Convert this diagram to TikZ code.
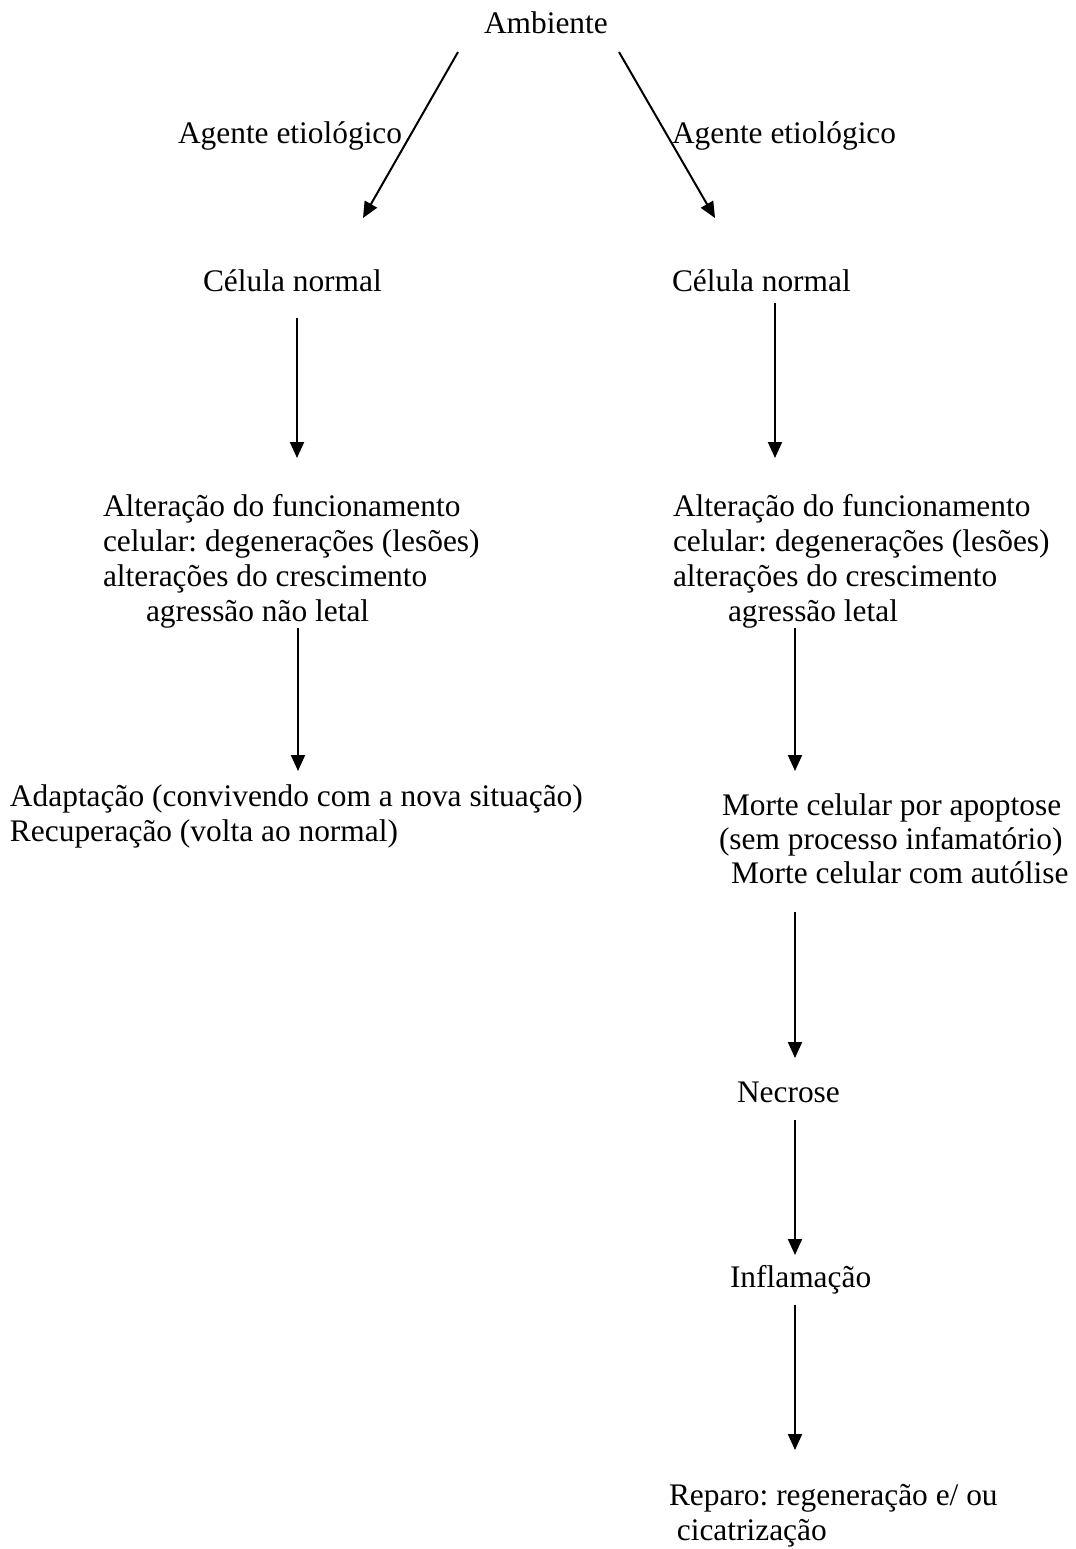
\documentclass[tikz,border=0pt]{standalone}
\usepackage{fontspec}
\setmainfont{Liberation Serif}
\usetikzlibrary{arrows.meta}
\newcommand\diagfont{\fontsize{15.7pt}{17.5pt}\selectfont\frenchspacing}
\begin{document}
\begin{tikzpicture}[x=0.5pt,y=-0.5pt,
  txt/.style={inner sep=0pt,outer sep=0pt,anchor=base west,font=\diagfont},
  arr/.style={line width=1pt,-{Triangle[length=8pt,width=7pt]}}]
\useasboundingbox[fill=white] (0,0) rectangle (1076,1549);
% texts
\node[txt] (amb) at (484,33) {Ambiente};
\node[txt] (agL) at (178,143) {Agente etiológico};
\node[txt] (agR) at (672,143) {Agente etiológico};
\node[txt] (celL) at (203,291) {Célula normal};
\node[txt] (celR) at (672,291) {Célula normal};
\node[txt] (altL) at (103,516) {\begin{tabular}[t]{@{}l@{}}Alteração do funcionamento\\celular: degenerações (lesões)\\alterações do crescimento\end{tabular}};
\node[txt] (altLb) at (146,621) {agressão não letal};
\node[txt] (altR) at (673,516) {\begin{tabular}[t]{@{}l@{}}Alteração do funcionamento\\celular: degenerações (lesões)\\alterações do crescimento\end{tabular}};
\node[txt] (altRb) at (728,621) {agressão letal};
\node[txt] (adap) at (10,806) {\begin{tabular}[t]{@{}l@{}}Adaptação (convivendo com a nova situação)\\Recuperação (volta ao normal)\end{tabular}};
\node[txt] (mort1) at (722,815) {Morte celular por apoptose};
\node[txt] (mort2) at (719,849) {(sem processo infamatório)};
\node[txt] (mort3) at (731,883) {Morte celular com autólise};
\node[txt] (necr) at (737,1102) {Necrose};
\node[txt] (infl) at (730,1287) {Inflamação};
\node[txt] (rep) at (669,1505) {\begin{tabular}[t]{@{}l@{}}Reparo: regeneração e/ ou\\\ cicatrização\end{tabular}};
% connector ends
\coordinate (a1s) at (458,52);  \coordinate (a1e) at (363,218);
\coordinate (a2s) at (619,52);  \coordinate (a2e) at (715,218);
\coordinate (l2s) at (297,318); \coordinate (l2e) at (297,458);
\coordinate (r2s) at (775,303); \coordinate (r2e) at (775,458);
\coordinate (l3s) at (298,628); \coordinate (l3e) at (298,771);
\coordinate (r3s) at (795,628); \coordinate (r3e) at (795,771);
\coordinate (r4s) at (795,912); \coordinate (r4e) at (795,1058);
\coordinate (r5s) at (795,1120);\coordinate (r5e) at (795,1255);
\coordinate (r6s) at (795,1305);\coordinate (r6e) at (795,1450);
\draw[arr] (a1s) -- (a1e);
\draw[arr] (a2s) -- (a2e);
\draw[arr] (l2s) -- (l2e);
\draw[arr] (r2s) -- (r2e);
\draw[arr] (l3s) -- (l3e);
\draw[arr] (r3s) -- (r3e);
\draw[arr] (r4s) -- (r4e);
\draw[arr] (r5s) -- (r5e);
\draw[arr] (r6s) -- (r6e);
\end{tikzpicture}
\end{document}
